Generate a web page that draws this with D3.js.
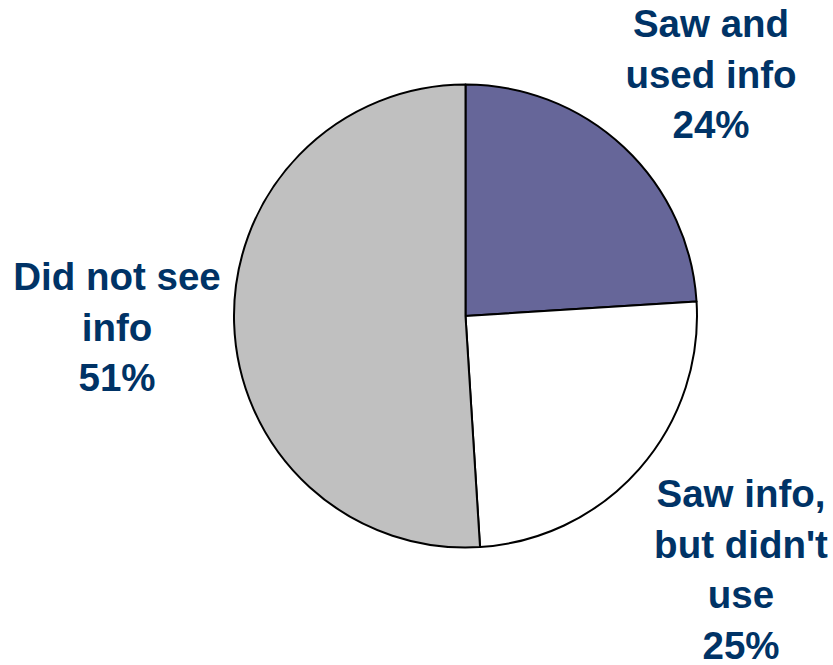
<!DOCTYPE html>
<html>
<head>
<meta charset="utf-8">
<script src="https://cdn.jsdelivr.net/npm/d3@7/dist/d3.min.js"></script>
<style>
  html, body { margin: 0; padding: 0; background: #fff; }
</style>
</head>
<body>
<div id="chart"></div>
<script>
const categories = ['Saw and used info', "Saw info, but didn't use", 'Did not see info'];
const values = [24, 25, 51];
const colors = ['#666699', '#ffffff', '#c0c0c0'];
const labelLines = [
  ['Saw and', 'used info', '24%'],
  ['Saw info,', "but didn't", 'use', '25%'],
  ['Did not see', 'info', '51%']
];
// label anchor (center x, first baseline y) per slice
const labelPos = [[711, 37], [741, 507], [117, 290]];

const width = 833, height = 665;
const cx = 465.5, cy = 316, radius = 231.5;

const svg = d3.select('#chart')
  .append('svg')
  .attr('width', width)
  .attr('height', height);

const pie = d3.pie().sort(null).value(d => d);
const arc = d3.arc().innerRadius(0).outerRadius(radius);

const g = svg.append('g').attr('transform', `translate(${cx},${cy})`);

g.selectAll('path')
  .data(pie(values))
  .enter().append('path')
  .attr('d', arc)
  .attr('fill', (d, i) => colors[i])
  .attr('stroke', '#000')
  .attr('stroke-width', 2)
  .attr('stroke-linejoin', 'round');

labelLines.forEach((lines, i) => {
  const t = svg.append('text')
    .attr('x', labelPos[i][0])
    .attr('y', labelPos[i][1])
    .attr('text-anchor', 'middle')
    .attr('fill', '#003366')
    .style('font-family', 'Arial, "Liberation Sans", sans-serif')
    .style('font-weight', 'bold')
    .style('font-size', '38.5px');
  lines.forEach((line, j) => {
    t.append('tspan')
      .attr('x', labelPos[i][0])
      .attr('dy', j === 0 ? 0 : 50.5)
      .text(line);
  });
});
</script>
</body>
</html>
